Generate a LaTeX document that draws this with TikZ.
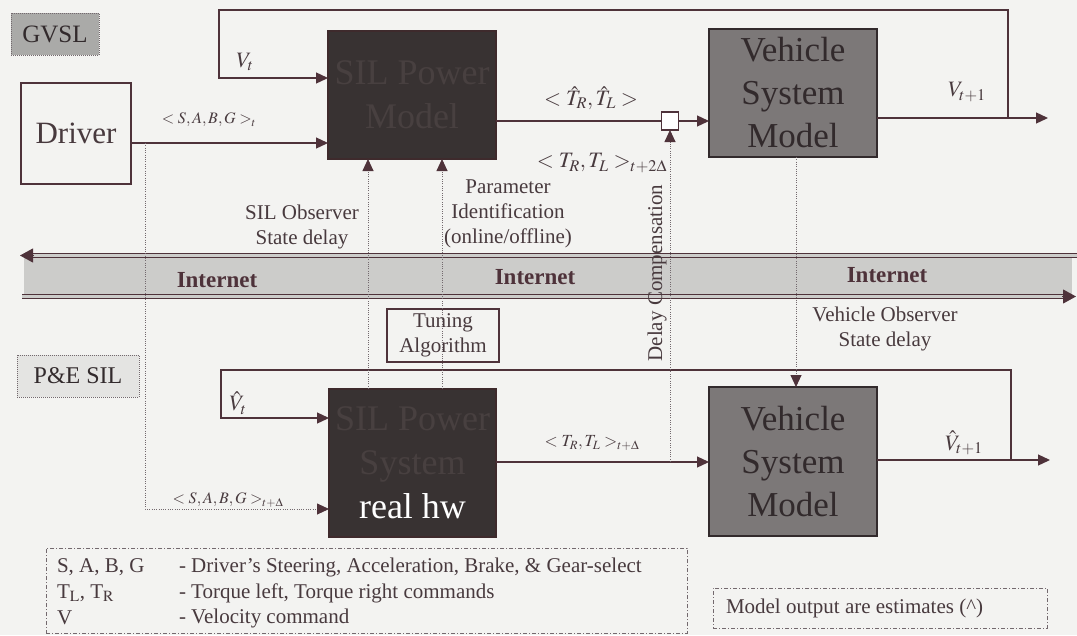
\documentclass[tikz,border=0pt]{standalone}
\usepackage{mathptmx}
\usepackage{fontspec}
\setmainfont{Liberation Serif}
\usetikzlibrary{arrows.meta}
\definecolor{bg}{RGB}{243,243,241}
\definecolor{ln}{RGB}{78,50,58}
\definecolor{dk}{RGB}{56,50,50}
\definecolor{dkb}{RGB}{62,42,44}
\definecolor{dktxt}{RGB}{72,64,64}
\definecolor{vg}{RGB}{124,120,120}
\definecolor{vtxt}{RGB}{50,42,44}
\definecolor{band}{RGB}{204,204,202}
\definecolor{txt}{RGB}{72,58,62}
\definecolor{dotc}{RGB}{115,105,110}
\definecolor{gvslfill}{RGB}{170,170,168}
\definecolor{pefill}{RGB}{228,228,226}
\newcommand\fsz[2]{\fontsize{#1}{#2}\selectfont}
\begin{document}
\begin{tikzpicture}[x=1pt,y=-1pt,
  every node/.style={inner sep=0pt, outer sep=0pt, text=txt},
  tip/.style={-{Triangle[length=12pt,width=11pt,color=ln]}},
  conn/.style={draw=ln, line width=1.3pt, tip},
  plainln/.style={draw=ln, line width=1.3pt},
  dotl/.style={draw=dotc, line width=0.9pt, dash pattern=on 1pt off 1.3pt},
  dotconn/.style={dotl, tip},
  dbl/.style={draw=ln, line width=1.4pt, double=band, double distance=2.2pt},
  bigtip/.style={draw=ln, line width=1pt, -{Triangle[length=13pt,width=14pt,color=ln]}},
  darkbox/.style={draw=dkb, line width=1.2pt, fill=dk, text=dktxt, align=center, font=\fsz{36}{44}},
  vehbox/.style={draw=vtxt, line width=1.2pt, fill=vg, text=vtxt, align=center, font=\fsz{35}{43}},
  plainbox/.style={draw=ln, line width=1.3pt, align=center},
  dashbox/.style={draw=dotc, line width=0.9pt, dash pattern=on 4pt off 2pt on 1pt off 2pt},
  lbl/.style={font=\fsz{21}{25}, align=center},
  inet/.style={font=\fsz{23}{27}\bfseries, text=ln},
  mlbl/.style={font=\fsz{22}{26}},
  slbl/.style={font=\fsz{16}{19}}
]
\fill[bg] (0,0) rectangle (1077,635);
\useasboundingbox (0,0) rectangle (1077,635);

% Internet band
\fill[band] (24,257) rectangle (1072,295);
\coordinate (bandTL) at (20,255.5);
\coordinate (bandTR) at (1077,255.5);
\coordinate (bandBL) at (22,296.5);
\coordinate (bandBR) at (1076,296.5);
\draw[dbl] (bandTR) -- ([xshift=10pt]bandTL);
\draw[bigtip] ([xshift=14pt]bandTL) -- (bandTL);
\draw[dbl] (bandBL) -- ([xshift=-10pt]bandBR);
\draw[bigtip] ([xshift=-14pt]bandBR) -- (bandBR);
\node[inet] (inet1) at (217,280) {Internet};
\node[inet] (inet2) at (535,277) {Internet};
\node[inet] (inet3) at (887,275) {Internet};

% boxes
\node[draw=dotc, line width=0.9pt, dash pattern=on 1pt off 1pt, fill=gvslfill, text=vtxt,
      minimum width=88pt, minimum height=42pt, font=\fsz{25}{29}] (gvsl) at (55,34) {GVSL};
\node[draw=dotc, line width=0.9pt, dash pattern=on 1pt off 1pt, fill=pefill, text=vtxt,
      minimum width=122pt, minimum height=42pt, font=\fsz{24}{28}] (pesil) at (78,376) {P\&E SIL};
\node[plainbox, minimum width=110pt, minimum height=101pt, font=\fsz{31}{36}] (driver) at (76,133.5) {Driver};
\node[darkbox, minimum width=168pt, minimum height=128pt] (silm) at (412,95) {SIL Power\\Model};
\node[vehbox, minimum width=168pt, minimum height=128pt] (vsm) at (793,93) {Vehicle\\System\\Model};
\node[draw=ln, line width=1.3pt, fill=white, minimum width=17pt, minimum height=18pt] (sq) at (670,121) {};
\node[darkbox, minimum width=167pt, minimum height=148pt] (silp) at (412.5,463)
  {SIL Power\\System\\{\color{white}real hw}};
\node[vehbox, minimum width=168pt, minimum height=149pt] (vsl) at (793,461.5) {Vehicle\\System\\Model};
\node[draw=ln, line width=1.1pt, minimum width=112pt, minimum height=53pt, lbl] (tuning) at (443,335.5) {Tuning\\Algorithm};

% top loop and output
\coordinate (outT) at (1048,118);
\coordinate (loopTR) at (1008,118);
\coordinate (loopTRt) at (1008,10);
\coordinate (loopTL) at (219,10);
\coordinate (loopTLb) at (219,78);
\draw[conn] (vsm.east |- outT) -- (outT);
\draw[conn] (loopTR) -- (loopTRt) -- (loopTL) -- (loopTLb) -- (silm.west |- loopTLb);

% driver
\coordinate (dd1) at (145,143);
\coordinate (dd2) at (145,509);
\draw[conn] (driver.east |- dd1) -- (silm.west |- dd1);
\draw[dotconn] (dd1) -- (dd2) -- (silp.west |- dd2);

% torque upper
\draw[plainln] (silm.east |- sq) -- (sq.west);
\draw[conn] (sq.east) -- (vsm.west |- sq);

% lower loop and output
\coordinate (outB) at (1050,460);
\coordinate (loopBR) at (1011,460);
\coordinate (loopBRt) at (1011,370);
\coordinate (loopBL) at (221,370);
\coordinate (loopBLb) at (221,418);
\draw[conn] (vsl.east |- outB) -- (outB);
\draw[conn] (loopBR) -- (loopBRt) -- (loopBL) -- (loopBLb) -- (silp.west |- loopBLb);

% torque lower
\coordinate (tlow) at (0,462);
\draw[conn] (silp.east |- tlow) -- (vsl.west |- tlow);

% dotted vertical feedbacks
\coordinate (dc) at (670,462);
\draw[dotconn] (dc) -- (sq.south);
\coordinate (xo1) at (368,0);
\coordinate (xo2) at (442,0);
\coordinate (xv) at (796,0);
\draw[dotconn] (silp.north -| xo1) -- (silm.south -| xo1);
\draw[dotconn] (silp.north -| xo2) -- (silm.south -| xo2);
\draw[dotconn] (vsm.south -| xv) -- (vsl.north -| xv);

% labels
\node[mlbl] (lvt) at (245,62) {$V_t$};
\node[slbl] (lsabg) at (209,120) {$<S,A,B,G>_t$};
\node[mlbl] (lthat) at (591,98) {$<\hat{T}_R,\hat{T}_L>$};
\node[mlbl] (lt2d) at (602,163) {$<T_R,T_L>_{t+2\Delta}$};
\node[mlbl] (lvt1) at (967,92) {$V_{t+1}$};
\node[lbl] (lsilobs) at (302,227) {SIL Observer\\State delay};
\node[lbl] (lparam) at (508,214) {Parameter\\Identification\\(online/offline)};
\node[lbl, rotate=90] (ldelay) at (657,273) {Delay Compensation};
\node[lbl] (lvehobs) at (885,329) {Vehicle Observer\\State delay};
\node[mlbl] (lvhat) at (238,403) {$\hat{V}_t$};
\node[slbl] (lsabgd) at (228,500) {$<S,A,B,G>_{t+\Delta}$};
\node[font=\fsz{17}{20}] (ltd) at (592,443) {$<T_R,T_L>_{t+\Delta}$};
\node[mlbl] (lvhat1) at (964,443) {$\hat{V}_{t+1}$};

% legend
\node[dashbox, minimum width=641pt, minimum height=85pt] (legend) at (366.5,590.5) {};
\node[lbl, anchor=west] (lg1a) at (57,567) {S, A, B, G};
\node[lbl, anchor=west] (lg1b) at (179,567) {- Driver’s Steering, Acceleration, Brake, \& Gear-select};
\node[lbl, anchor=west] (lg2a) at (57,593) {T$_\mathrm{L}$, T$_\mathrm{R}$};
\node[lbl, anchor=west] (lg2b) at (179,593) {- Torque left, Torque right commands};
\node[lbl, anchor=west] (lg3a) at (57,618) {V};
\node[lbl, anchor=west] (lg3b) at (179,618) {- Velocity command};
\node[dashbox, minimum width=334pt, minimum height=40pt] (modelout) at (880,608) {};
\node[lbl, anchor=west] (lmo) at (726,608) {Model output are estimates (\^{})};
\end{tikzpicture}
\end{document}
